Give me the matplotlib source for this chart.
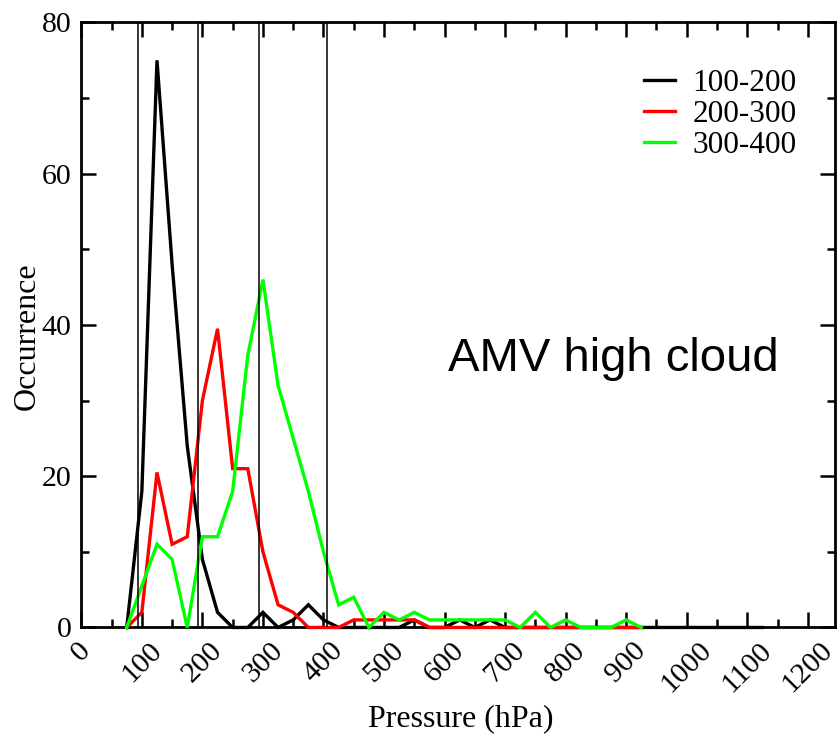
import matplotlib
matplotlib.use("Agg")
import matplotlib.pyplot as plt
from matplotlib.ticker import MultipleLocator

# pressure bins (hPa) and occurrence counts per AMV height class
pressure = [75, 100, 125, 150, 175, 200, 225, 250, 275, 300, 325, 350,
            375, 400, 425, 450, 475, 500, 525, 550, 575, 600, 625, 650, 675, 700,
            725, 750, 775, 800, 825, 850, 875, 900, 925, 950, 975, 1000, 1025,
            1050, 1075, 1100, 1125]
occ_100_200 = [0, 18, 75, 48, 24, 9, 2, 0, 0, 2, 0, 1,
               3, 1, 0, 0, 0, 0, 0, 1, 0, 0, 1, 0, 1, 0,
               0, 0, 0, 0, 0, 0, 0, 0, 0, 0, 0, 0, 0,
               0, 0, 0, 0]
occ_200_300 = [0, 2, 20.5, 11, 12, 30, 39.5, 21, 21, 10, 3, 2,
               0, 0, 0, 1, 1, 1, 1, 1, 0, 0, 0, 0, 0, 0,
               0, 0, 0, 0, 0, 0, 0, 0, 0]
occ_300_400 = [0, 5.5, 11, 9, 0, 12, 12, 18, 36, 46, 32, 25,
               18, 10, 3, 4, 0, 2, 1, 2, 1, 1, 1, 1, 1, 1,
               0, 2, 0, 1, 0, 0, 0, 1, 0]
series = [("100-200", occ_100_200, "#000000"),
          ("200-300", occ_200_300, "#ff0000"),
          ("300-400", occ_300_400, "#00ff00")]
class_bounds = [93, 193, 294, 405]
xticks = [0, 100, 200, 300, 400, 500, 600, 700, 800, 900, 1000, 1100, 1200]

plt.rcParams["font.family"] = ["Liberation Serif", "DejaVu Serif"]

fig = plt.figure(figsize=(8.4, 7.35), dpi=100)
ax = fig.add_axes([0.0968, 0.1463, 0.8973, 0.8231])

for label, vals, col in series:
    ax.plot(pressure[:len(vals)], vals, color=col, lw=2.4, label=label,
            solid_joinstyle="miter", clip_on=False, zorder=3)
for xb in class_bounds:
    ax.axvline(xb, color="black", lw=1.1, zorder=4)

ax.set_xlim(0, 1245)
ax.set_ylim(0, 80)
ax.set_xticks(xticks)
ax.set_xticklabels([str(v) for v in xticks], rotation=45, ha="center", va="top")
ax.xaxis.set_minor_locator(MultipleLocator(50))
ax.yaxis.set_major_locator(MultipleLocator(20))
ax.yaxis.set_minor_locator(MultipleLocator(10))
ax.tick_params(which="both", direction="in", top=True, right=True, width=1.8,
               labelsize=21.5)
ax.tick_params(which="major", length=11)
ax.tick_params(which="minor", length=5.5)
ax.tick_params(axis="x", which="major", pad=7)
ax.tick_params(axis="y", which="major", pad=7)
for sp in ax.spines.values():
    sp.set_linewidth(2.0)

ax.set_ylabel("Occurrence", fontsize=23)
ax.yaxis.set_label_coords(-0.052, 0.482)
fig.text(461 / 840, 1 - 719 / 735, "Pressure (hPa)", fontsize=23,
         ha="center", va="center")

ax.text(0.487, 0.424, "AMV high cloud", transform=ax.transAxes,
        fontsize=34, family=["Liberation Sans", "DejaVu Sans"], va="baseline")

ax.legend(loc="upper left", bbox_to_anchor=(644 / 840, 1 - 69 / 735),
          bbox_transform=fig.transFigure, frameon=False, fontsize=22.5,
          handlelength=1.0, handletextpad=0.55, labelspacing=0.07,
          borderpad=0, borderaxespad=0)

fig.savefig("out.png", dpi=100)
